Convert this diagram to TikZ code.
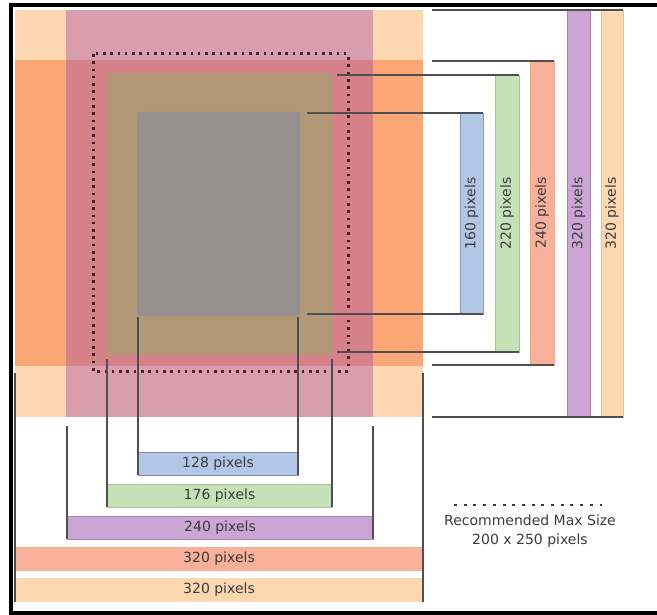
\documentclass[tikz,border=0pt]{standalone}
\usepackage{fontspec}
\setmainfont{DejaVu Sans}
\definecolor{cPeach}{HTML}{FDD8B2}
\definecolor{cOrange}{HTML}{FBA876}
\definecolor{cMauve}{HTML}{D89EAD}
\definecolor{cRose}{HTML}{D6808A}
\definecolor{cOlive}{HTML}{B19877}
\definecolor{cGrey}{HTML}{979090}
\definecolor{bBlue}{HTML}{B2C7E6}
\definecolor{bGreen}{HTML}{C4E2B6}
\definecolor{bSalmon}{HTML}{F8B09A}
\definecolor{bPurple}{HTML}{CBA6D5}
\definecolor{bPeach}{HTML}{FDD7B0}
\definecolor{lineGrey}{HTML}{4F4F4F}
\definecolor{txtGrey}{HTML}{3C3C3C}
\definecolor{dotRed}{HTML}{4E1A28}
\begin{document}
\begin{tikzpicture}[x=1pt,y=-1pt,
  area/.style={draw=none, inner sep=0pt, outer sep=0pt, anchor=north west},
  barbox/.style={inner sep=0pt, outer sep=0pt, anchor=north west, line width=0.8pt,
    text=txtGrey, font=\fontsize{14}{16}\selectfont},
  bracket/.style={draw=lineGrey, line width=1.3pt},
  maxdots/.style={draw=dotRed, line width=3pt, dash pattern=on 2.6pt off 4.7pt},
  legdots/.style={draw=txtGrey, line width=2.6pt, dash pattern=on 3pt off 6.7pt},
  legendtext/.style={align=center, text=txtGrey, font=\fontsize{14}{19}\selectfont}]
\useasboundingbox (0,0) rectangle (657,615);
% frame
\fill[black] (9,3) rectangle (657,7);
\fill[black] (9,3) rectangle (13,615);
\fill[black] (9,611) rectangle (657,615);
% main overlapping areas
\node[area, fill=cPeach, minimum width=408pt, minimum height=407pt] (peach) at (15,10) {};
\node[area, fill=cOrange, minimum width=408pt, minimum height=306pt] (orange) at (15,60) {};
\node[area, fill=cMauve, minimum width=307pt, minimum height=407pt] (purple) at (66,10) {};
\node[area, fill=cRose, minimum width=307pt, minimum height=306pt] (rose) at (66,60) {};
\node[area, fill=cOlive, minimum width=225pt, minimum height=282pt] (green) at (107,73) {};
\node[area, fill=cGrey, rounded corners=3pt, minimum width=163pt, minimum height=204pt] (grey) at (137,112) {};
\draw[maxdots] (93,54) rectangle (348,371);
% right bars
\node[barbox, fill=bBlue, draw=bBlue!75!black, minimum width=23pt, minimum height=201pt] (b160) at (460,113) {\rotatebox{90}{160 pixels}};
\node[barbox, fill=bGreen, draw=bGreen!85!black, minimum width=24pt, minimum height=277pt] (b220) at (495,75) {\rotatebox{90}{220 pixels}};
\node[barbox, fill=bSalmon, draw=bSalmon!80!orange, minimum width=24pt, minimum height=304pt] (b240) at (530,61) {\rotatebox{90}{240 pixels}};
\node[barbox, fill=bPurple, draw=bPurple!80!black, minimum width=23pt, minimum height=407pt] (b320p) at (567,10) {\rotatebox{90}{320 pixels}};
\node[barbox, fill=bPeach, draw=bPeach!90!black, minimum width=22pt, minimum height=407pt] (b320o) at (601,10) {\rotatebox{90}{320 pixels}};
% bottom bars
\node[barbox, fill=bBlue, draw=bBlue!70!black, minimum width=160pt, minimum height=23pt] (h128) at (138,452) {128 pixels};
\node[barbox, fill=bGreen, draw=bGreen!85!black, minimum width=225pt, minimum height=23pt] (h176) at (107,484) {176 pixels};
\node[barbox, fill=bPurple, draw=bPurple!80!black, minimum width=306pt, minimum height=23pt] (h240) at (67,516) {240 pixels};
\node[barbox, fill=bSalmon, minimum width=408pt, minimum height=24pt] (h320a) at (15,547) {320 pixels};
\node[barbox, fill=bPeach, minimum width=408pt, minimum height=24pt] (h320b) at (15,578) {320 pixels};
% free ends of the brackets
\coordinate (r160t) at (307,113);
\coordinate (r160b) at (307,314);
\coordinate (r220t) at (337,75);
\coordinate (r220b) at (337,352);
\coordinate (r240t) at (432,61);
\coordinate (r240b) at (432,365);
\coordinate (r320t) at (432,10);
\coordinate (r320b) at (432,417);
\coordinate (d128l) at (138,317);
\coordinate (d128r) at (298,317);
\coordinate (d176l) at (107,359);
\coordinate (d176r) at (332,359);
\coordinate (d240l) at (67,426);
\coordinate (d240r) at (373,426);
\coordinate (d320l) at (15,373);
\coordinate (d320r) at (423,373);
% right brackets
\draw[bracket] (r160t) -- (b160.north east);
\draw[bracket] (r160b) -- (b160.south east);
\draw[bracket] (r220t) -- (b220.north east);
\draw[bracket] (r220b) -- (b220.south east);
\draw[bracket] (r240t) -- (b240.north east);
\draw[bracket] (r240b) -- (b240.south east);
\draw[bracket] (r320t) -- (b320o.north east);
\draw[bracket] (r320b) -- (b320o.south east);
% bottom brackets
\draw[bracket] (d128l) -- (h128.south west);
\draw[bracket] (d128r) -- (h128.south east);
\draw[bracket] (d176l) -- (h176.south west);
\draw[bracket] (d176r) -- (h176.south east);
\draw[bracket] (d240l) -- (h240.south west);
\draw[bracket] (d240r) -- (h240.south east);
\draw[bracket] (d320l) -- (h320b.south west);
\draw[bracket] (d320r) -- (h320b.south east);
% legend
\coordinate (leg1) at (454,505);
\coordinate (leg2) at (602,505);
\draw[legdots] (leg1) -- (leg2);
\node[legendtext] (legend) at (530,531) {Recommended Max Size\\200 x 250 pixels};
\end{tikzpicture}
\end{document}
